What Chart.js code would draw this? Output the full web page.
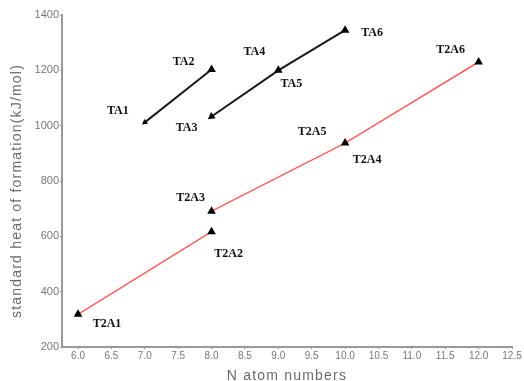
<!DOCTYPE html>
<html>
<head>
<meta charset="utf-8">
<script src="https://cdn.jsdelivr.net/npm/chart.js@4"></script>
<style>
  html, body { margin: 0; padding: 0; background: #fff; }
  #wrap { width: 524px; height: 381px; }
</style>
</head>
<body>
<div id="wrap"><canvas id="heatChart" width="524" height="381"></canvas></div>
<script>
// TA series (black, arrows)
const taNames = ["TA1", "TA2", "TA3", "TA4", "TA5", "TA6"];
const taX = [7, 8, 8, 9, 9, 10];
const taY = [1012, 1203, 1033, 1200, 1200, 1345];

// T2A series (red line)
const t2aNames = ["T2A1", "T2A2", "T2A3", "T2A4", "T2A5", "T2A6"];
const t2aX = [6, 8, 8, 10, 10, 12];
const t2aY = [318, 617, 691, 937, 937, 1230];

// tick labels
const xTicks = [6.0, 6.5, 7.0, 7.5, 8.0, 8.5, 9.0, 9.5, 10.0, 10.5, 11.0, 11.5, 12.0, 12.5];
const yTicks = [200, 400, 600, 800, 1000, 1200, 1400];

// which points are joined
const taSegments = [[1, 0], [5, 4, 2]];
const t2aSegments = [[0, 1], [2, 3, 5]];

const xTitle = 'N atom numbers';
const yTitle = 'standard heat of formation(kJ/mol)';

function pts(xs, ys, idx) {
    return idx.map(i => ({ x: xs[i], y: ys[i] }));
}

// label offsets from the point, px
const labelOffsets = {
    TA1: [-27, -11], TA2: [-28, -8], TA3: [-25, 11], TA4: [-24, -18], TA5: [13, 14], TA6: [27, 3],
    T2A1: [29, 10], T2A2: [17, 22], T2A3: [-21, -13], T2A4: [22, 17], T2A5: [-33, -11], T2A6: [-28, -12]
};

const pointLabels = {
    id: 'pointLabels',
    afterDatasetsDraw(chart) {
        const { ctx, scales } = chart;
        ctx.save();
        ctx.font = 'bold 12px "Liberation Serif", "Times New Roman", serif';
        ctx.fillStyle = '#111';
        ctx.textAlign = 'center';
        ctx.textBaseline = 'middle';
        const put = (names, xs, ys) => names.forEach((n, i) => {
            const px = scales.x.getPixelForValue(xs[i]);
            const py = scales.y.getPixelForValue(ys[i]);
            const o = labelOffsets[n];
            ctx.fillText(n, px + o[0], py + o[1]);
        });
        put(taNames, taX, taY);
        put(t2aNames, t2aX, t2aY);
        ctx.restore();
    }
};

// axis titles, drawn wide like the original
const axisTitles = {
    id: 'axisTitles',
    afterDraw(chart) {
        const { ctx, chartArea } = chart;
        ctx.save();
        ctx.font = '14px "Liberation Sans", Arial, sans-serif';
        ctx.fillStyle = '#6a6a6a';
        ctx.textAlign = 'center';
        ctx.textBaseline = 'middle';
        ctx.letterSpacing = '1.2px';
        ctx.fillText(xTitle, (chartArea.left + chartArea.right) / 2, 376);
        ctx.translate(17, (chartArea.top + chartArea.bottom) / 2 + 10);
        ctx.rotate(-Math.PI / 2);
        ctx.fillText(yTitle, 0, 0);
        ctx.restore();
    }
};

const blackLine = (idx, styles, radii) => ({
    data: pts(taX, taY, idx),
    borderColor: '#1a1a1a',
    borderWidth: 2,
    backgroundColor: '#000',
    pointStyle: 'triangle',
    pointRadius: radii,
    pointRotation: styles,
    pointBorderWidth: 0,
    pointBackgroundColor: '#000',
    showLine: true,
    tension: 0
});

const redLine = (idx) => ({
    data: pts(t2aX, t2aY, idx),
    borderColor: 'rgba(250, 80, 80, 0.9)',
    borderWidth: 1.6,
    pointStyle: 'triangle',
    pointRadius: 5,
    pointBorderWidth: 0,
    pointBackgroundColor: '#000',
    showLine: true,
    tension: 0
});

const ctx = document.getElementById('heatChart').getContext('2d');
const heatChart = new Chart(ctx, {
    type: 'scatter',
    data: {
        datasets: [
            redLine(t2aSegments[0]),
            redLine(t2aSegments[1]),
            blackLine(taSegments[0], [0, 232], [5, 3.5]),
            blackLine(taSegments[1], [0, 0, 234], [5, 5, 4.5])
        ]
    },
    options: {
        responsive: false,
        animation: false,
        layout: { padding: { left: 0, right: 12, top: 15, bottom: 0 } },
        plugins: {
            legend: { display: false },
            tooltip: { enabled: false }
        },
        scales: {
            x: {
                type: 'linear',
                min: 5.76,
                max: 12.5,
                afterBuildTicks: function (scale) {
                    scale.ticks = xTicks.map(v => ({ value: v }));
                },
                afterFit: function (scale) {
                    scale.height = 34;
                },
                grid: { display: true, drawOnChartArea: false, tickLength: 2, color: '#999' },
                border: { display: true, color: '#999', width: 2 },
                ticks: {
                    padding: 1,
                    color: '#777',
                    font: { family: 'Liberation Sans, Arial, sans-serif', size: 10 },
                    maxRotation: 0,
                    autoSkip: false,
                    callback: function (value) {
                        return value.toFixed(1);
                    }
                },
                title: { display: false }
            },
            y: {
                type: 'linear',
                min: 200,
                max: 1400,
                afterBuildTicks: function (scale) {
                    scale.ticks = yTicks.map(v => ({ value: v }));
                },
                afterFit: function (scale) {
                    scale.width = 62;
                },
                grid: { display: true, drawOnChartArea: false, tickLength: 2, color: '#999' },
                border: { display: true, color: '#999', width: 2 },
                ticks: {
                    padding: 1,
                    color: '#777',
                    font: { family: 'Liberation Sans, Arial, sans-serif', size: 11 },
                    callback: function (value) {
                        return String(value);
                    }
                },
                title: { display: false }
            }
        }
    },
    plugins: [pointLabels, axisTitles]
});
</script>
</body>
</html>
